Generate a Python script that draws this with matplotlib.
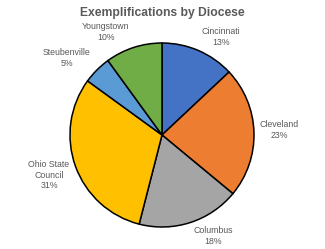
import matplotlib
matplotlib.use("Agg")
import matplotlib.pyplot as plt

categories = ["Cincinnati", "Cleveland", "Columbus", "Ohio State\nCouncil", "Steubenville", "Youngstown"]
values = [13, 23, 18, 31, 5, 10]
colors = ["#4472C4", "#ED7D31", "#A5A5A5", "#FFC000", "#5B9BD5", "#70AD47"]
title = "Exemplifications by Diocese"

# label positions (pixel coords, y from top)
label_pos = [(221, 37), (279, 130), (213, 236), (49, 175), (67, 58), (106, 32)]

W, H = 325, 249
fig = plt.figure(figsize=(W / 100, H / 100), dpi=100)
ax = fig.add_axes([0, 0, 1, 1])

cx, cy, r = 162, H - 135, 92
wedges, _ = ax.pie(values, colors=colors, startangle=90, counterclock=False,
                   center=(cx, cy), radius=r, frame=True,
                   wedgeprops=dict(edgecolor="black", linewidth=1.1))
ax.set_xlim(0, W)
ax.set_ylim(0, H)
ax.set_aspect("equal")
ax.axis("off")

total = sum(values)
for cat, v, (px, py) in zip(categories, values, label_pos):
    ax.text(px, H - py, f"{cat}\n{round(100 * v / total)}%", ha="center", va="center",
            fontsize=6.3, color="#595959", family="Liberation Sans", linespacing=1.15)

ax.text(W / 2, H - 12.5, title, ha="center", va="center", fontsize=8.7,
        fontweight="bold", color="#595959", family="Liberation Sans")

fig.savefig("out.png", dpi=100)
